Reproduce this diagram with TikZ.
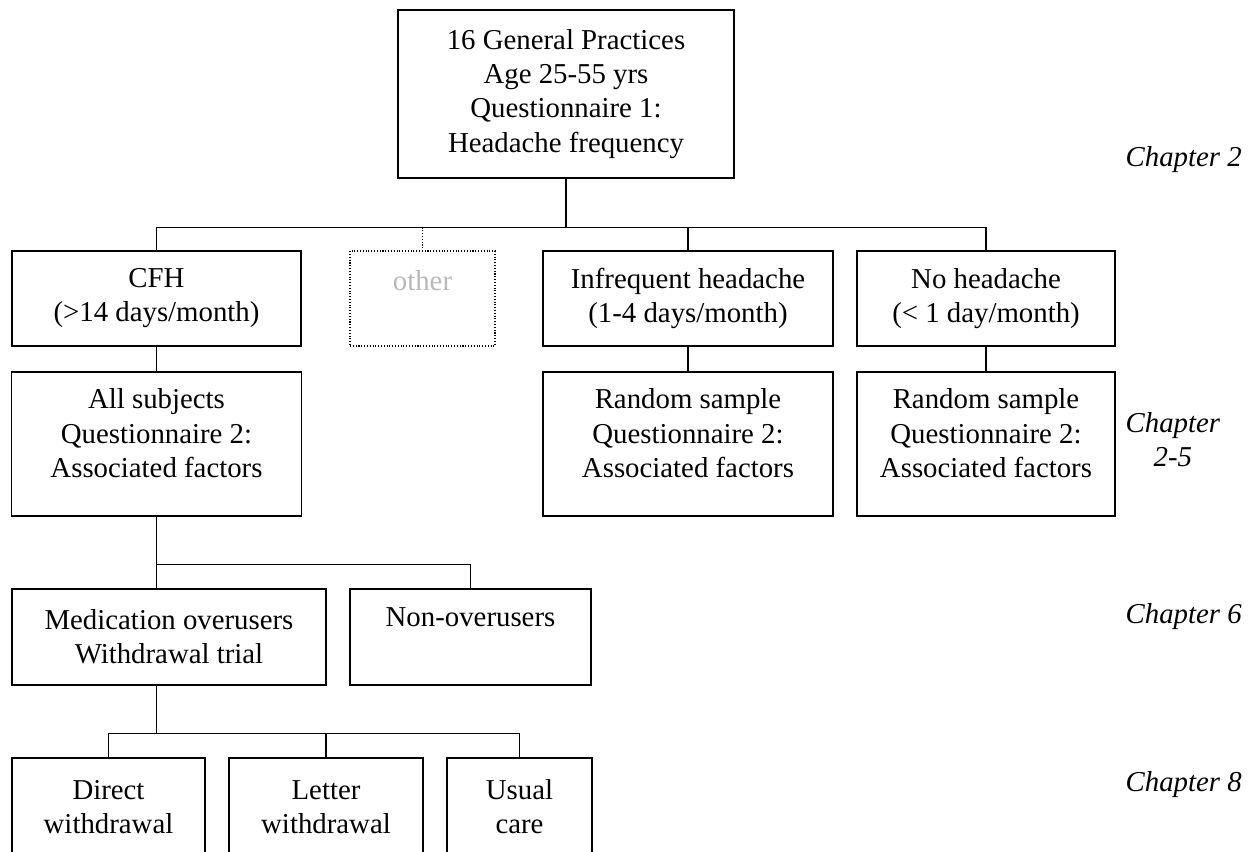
\documentclass[tikz,border=0pt]{standalone}
\usepackage{fontspec}
\setmainfont{Liberation Serif}
\usepackage{xcolor}
\usepackage{tikz}
\usetikzlibrary{positioning}
\definecolor{othgray}{gray}{0.72}
\newcommand{\boxfont}{\fontsize{16.4}{19.4}\selectfont}
\tikzset{
    blk/.style={draw, line width=0.7pt, align=center, inner sep=2pt, font=\boxfont},
    othblk/.style={draw, densely dotted, line width=0.6pt, text=othgray, align=center, inner sep=2pt, font=\boxfont},
    chap/.style={anchor=west, align=center, inner sep=0pt, font=\boxfont\itshape},
    ln/.style={line width=0.7pt}
}
\begin{document}
\begin{tikzpicture}[x=0.02cm, y=-0.02cm, ln]
        \useasboundingbox (0,0) rectangle (1255,852);
        \node[blk, minimum width=6.72cm, minimum height=3.36cm] (gp) at (566,94) {16 General Practices\\Age 25-55 yrs\\Questionnaire 1:\\Headache frequency};

        \node[blk, minimum width=5.78cm, minimum height=1.9cm] (cfh) at (156.5,298.5) {CFH\\(>14 days/month)};
        \node[othblk, minimum width=2.9cm, minimum height=1.9cm, text depth=21pt] (oth) at (422.5,298.5) {other};
        \node[blk, minimum width=5.8cm, minimum height=1.9cm] (infreq) at (688,298.5) {Infrequent headache\\(1-4 days/month)};
        \node[blk, minimum width=5.16cm, minimum height=1.9cm] (nohead) at (986,298.5) {No headache\\(< 1 day/month)};

        \node[blk, minimum width=5.8cm, minimum height=2.88cm, text depth=12.5pt] (all) at (156.5,444) {All subjects\\Questionnaire 2:\\Associated factors};
        \node[blk, minimum width=5.8cm, minimum height=2.88cm, text depth=12.5pt] (rand1) at (688,444) {Random sample\\Questionnaire 2:\\Associated factors};
        \node[blk, minimum width=5.16cm, minimum height=2.88cm, text depth=12.5pt] (rand2) at (986,444) {Random sample\\Questionnaire 2:\\Associated factors};

        \node[blk, minimum width=6.28cm, minimum height=1.92cm] (med) at (169,637) {Medication overusers\\Withdrawal trial};
        \node[blk, minimum width=4.82cm, minimum height=1.92cm, text depth=23pt] (nonover) at (470.5,637) {Non-overusers};

        \node[blk, minimum width=3.86cm, minimum height=1.96cm] (direct) at (108.5,807) {Direct\\withdrawal};
        \node[blk, minimum width=3.88cm, minimum height=1.96cm] (letter) at (326,807) {Letter\\withdrawal};
        \node[blk, minimum width=2.9cm, minimum height=1.96cm] (usual) at (519.5,807) {Usual\\care};

        \node[chap] (ch2) at (1125,160) {Chapter 2};
        \node[chap] (ch25) at (1125,440) {Chapter\\2-5};
        \node[chap] (ch6) at (1125,617) {Chapter 6};
        \node[chap] (ch8) at (1125,785) {Chapter 8};

        \draw (gp.south) -- ++(0,49) coordinate (b1);
        \draw (b1) -| (cfh.north);
        \draw (b1) -| (nohead.north);
        \draw (b1 -| infreq.north) -- (infreq.north);
        \draw[densely dotted, line width=0.6pt] (b1 -| oth.north) -- (oth.north);
        \draw (cfh.south) -- (all.north);
        \draw (infreq.south) -- (rand1.north);
        \draw (nohead.south) -- (rand2.north);

        \draw (all.south) -- ++(0,48) coordinate (b2);
        \draw (b2) -- (b2 |- med.north);
        \draw (b2) -| (nonover.north);

        \draw (b2 |- med.south) -- ++(0,48) coordinate (b3);
        \draw (b3) -| (direct.north);
        \draw (b3) -| (usual.north);
        \draw (b3 -| letter.north) -- (letter.north);
    \end{tikzpicture}
\end{document}
